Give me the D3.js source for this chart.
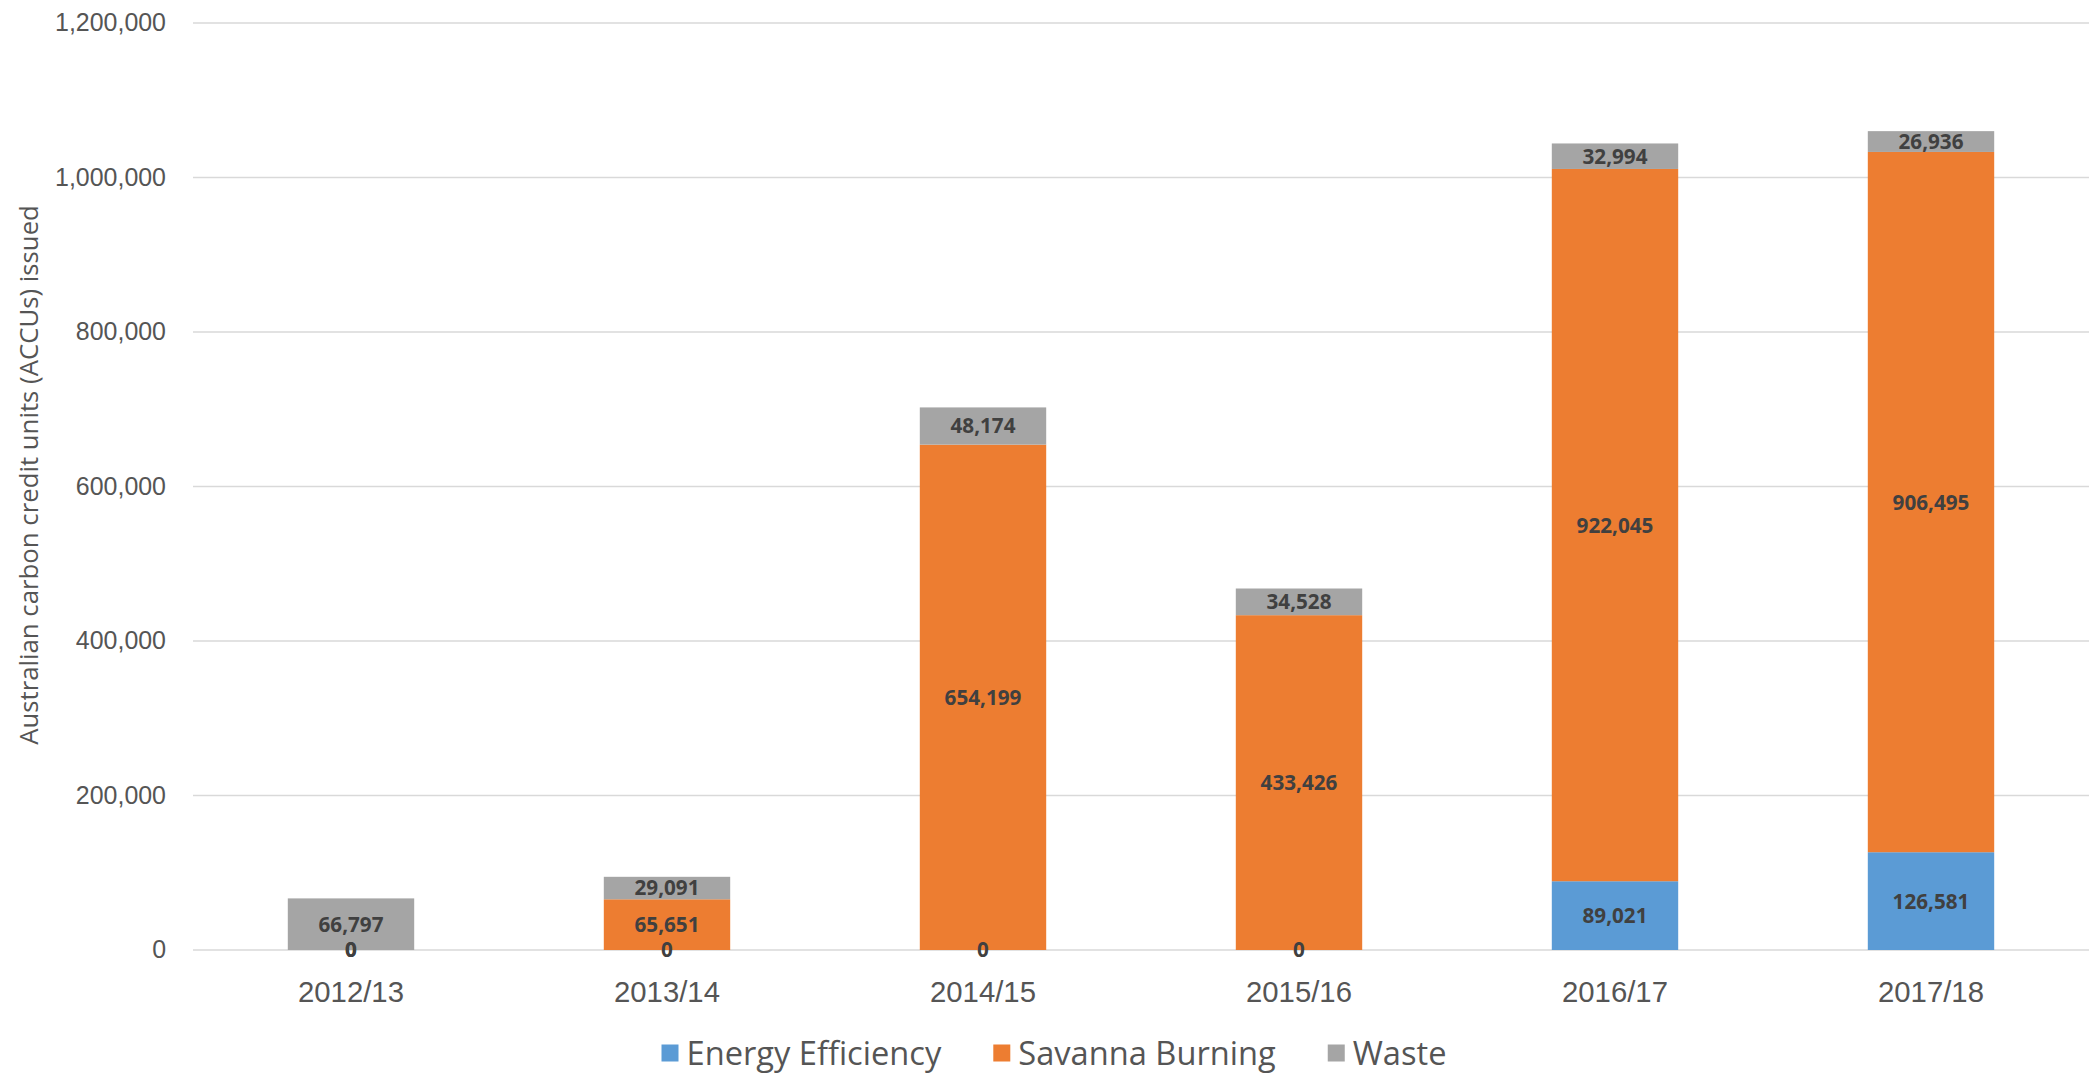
<!DOCTYPE html>
<html>
<head>
<meta charset="utf-8">
<script src="https://cdn.jsdelivr.net/npm/d3@7"></script>
<style>
  html, body { margin: 0; padding: 0; background: #ffffff; }
  svg { display: block; font-family: "Open Sans", "Noto Sans", sans-serif; }
</style>
</head>
<body>
<svg id="chart" width="2089" height="1077"></svg>
<script>
// Financial years on the horizontal axis
const years = ["2012/13", "2013/14", "2014/15", "2015/16", "2016/17", "2017/18"];

// ACCUs issued per method type, by year
const energyEfficiency = [0, 0, 0, 0, 89021, 126581];
const savannaBurning   = [0, 65651, 654199, 433426, 922045, 906495];
const waste            = [66797, 29091, 48174, 34528, 32994, 26936];

// Series names (stack order, bottom to top) and axis ticks
const seriesNames = ["Energy Efficiency", "Savanna Burning", "Waste"];
const yTickValues = [0, 200000, 400000, 600000, 800000, 1000000, 1200000];
const yTitle = "Australian carbon credit units (ACCUs) issued";

const colors = { "Energy Efficiency": "#5B9BD5", "Savanna Burning": "#ED7D31", "Waste": "#A5A5A5" };

const W = 2089, H = 1077;
const plot = { left: 193, right: 2089, top: 23, bottom: 950 };
const textColor = "#555555";
const labelColor = "#404040";

const svg = d3.select("#chart");

// Scale text so a sample string spans a given width
function fitSize(nodeSel, targetWidth) {
  const base = 20;
  nodeSel.style("font-size", base + "px");
  const w = nodeSel.node().getComputedTextLength();
  return base * targetWidth / w;
}

const rows = years.map((yr, i) => ({
  year: yr,
  "Energy Efficiency": energyEfficiency[i],
  "Savanna Burning": savannaBurning[i],
  "Waste": waste[i]
}));
const stacked = d3.stack().keys(seriesNames)(rows);

const x = d3.scaleBand()
  .domain(years)
  .range([plot.left, plot.right])
  .paddingInner(0.6)
  .paddingOuter(0.3);

const y = d3.scaleLinear()
  .domain([0, 1200000])
  .range([plot.bottom, plot.top]);

// Gridlines
svg.append("g")
  .selectAll("line")
  .data(yTickValues)
  .join("line")
  .attr("x1", plot.left)
  .attr("x2", plot.right)
  .attr("y1", d => y(d))
  .attr("y2", d => y(d))
  .attr("stroke", "#D9D9D9")
  .attr("stroke-width", 1.4);

// Y axis labels
const yAxisG = svg.append("g")
  .attr("transform", `translate(${plot.left},0)`)
  .call(d3.axisLeft(y).tickValues(yTickValues).tickFormat(d3.format(",")).tickSize(0).tickPadding(27));
yAxisG.select(".domain").remove();
const yTickText = yAxisG.selectAll("text")
  .attr("fill", textColor)
  .attr("font-family", null);
const ySize = fitSize(yAxisG.selectAll("text").filter(d => d === 1200000), 111);
yTickText.style("font-size", ySize + "px");

// Stacked bars
const layers = svg.append("g")
  .selectAll("g")
  .data(stacked)
  .join("g")
  .attr("fill", d => colors[d.key]);

layers.selectAll("rect")
  .data(d => d)
  .join("rect")
  .attr("x", d => x(d.data.year))
  .attr("width", x.bandwidth())
  .attr("y", d => y(d[1]))
  .attr("height", d => y(d[0]) - y(d[1]));

// Value labels centred in each segment
const labelG = svg.append("g")
  .attr("font-weight", "bold")
  .attr("fill", labelColor)
  .attr("text-anchor", "middle");

stacked.forEach(layer => {
  labelG.selectAll(null)
    .data(layer)
    .join("text")
    .attr("x", d => x(d.data.year) + x.bandwidth() / 2)
    .attr("y", d => (y(d[0]) + y(d[1])) / 2)
    .attr("dy", "0.36em")
    .text(d => d3.format(",")(d[1] - d[0]));
});
const labelSize = fitSize(labelG.selectAll("text").filter(function () { return this.textContent === "66,797"; }), 65);
labelG.selectAll("text").style("font-size", labelSize + "px");

// X axis labels
const xAxisG = svg.append("g")
  .attr("transform", `translate(0,${plot.bottom})`)
  .call(d3.axisBottom(x).tickSize(0));
xAxisG.select(".domain").remove();
const xText = xAxisG.selectAll("text")
  .attr("fill", textColor)
  .attr("dy", null)
  .attr("y", 52);
const xSize = fitSize(xAxisG.selectAll("text").filter(d => d === years[0]), 106);
xText.style("font-size", xSize + "px");

// Y axis title
const yTitleText = svg.append("text")
  .attr("transform", `translate(29,${475}) rotate(-90)`)
  .attr("text-anchor", "middle")
  .attr("dy", "0.36em")
  .attr("fill", textColor)
  .text(yTitle);
yTitleText.style("font-size", fitSize(yTitleText, 540) + "px");

// Legend
const legend = svg.append("g");
const items = legend.selectAll("g")
  .data(seriesNames)
  .join("g");
items.append("rect")
  .attr("width", 17)
  .attr("height", 17)
  .attr("y", -8.5)
  .attr("fill", d => colors[d]);
const legendText = items.append("text")
  .attr("x", 25)
  .attr("dy", "0.36em")
  .attr("fill", textColor)
  .text(d => d);
const legSize = fitSize(legendText.filter(d => d === "Energy Efficiency"), 255);
legendText.style("font-size", legSize + "px");

let cursor = 0;
const gap = 52;
items.each(function () {
  const g = d3.select(this);
  g.attr("transform", `translate(${cursor},0)`);
  cursor += 25 + g.select("text").node().getComputedTextLength() + gap;
});
const legendWidth = cursor - gap;
legend.attr("transform", `translate(${1054 - legendWidth / 2},1053)`);
</script>
</body>
</html>
